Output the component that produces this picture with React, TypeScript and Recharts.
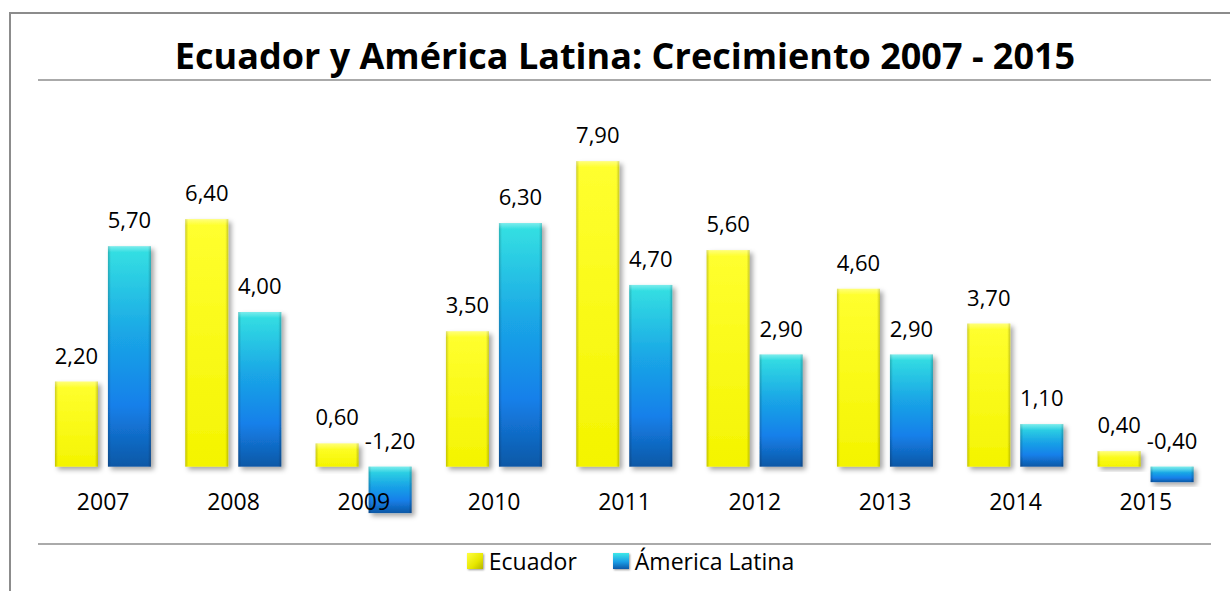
import { BarChart, Bar, XAxis, YAxis, CartesianGrid, Legend, LabelList } from 'recharts';

// growth rates (%)
const years = ['2007', '2008', '2009', '2010', '2011', '2012', '2013', '2014', '2015'];
const ecuador = [2.2, 6.4, 0.6, 3.5, 7.9, 5.6, 4.6, 3.7, 0.4];
const americaLatina = [5.7, 4.0, -1.2, 6.3, 4.7, 2.9, 2.9, 1.1, -0.4];
const yTicks = [-2, 0, 2, 4, 6, 8, 10];

const data = years.map((year, i) => ({
  year,
  ecuador: ecuador[i],
  latam: americaLatina[i],
}));

const FONT = '"Open Sans", "Noto Sans", sans-serif';

const fmt = (v: number) => v.toFixed(2).replace('.', ',');

const BevelBar = (props: any) => {
  const { x, y, width, height, fill } = props;
  const top = Math.min(y, y + height);
  const h = Math.abs(height);
  if (!h) return null;
  return (
    <g filter="url(#barShadow)">
      <rect x={x} y={top} width={width} height={h} fill={fill} />
      <rect x={x} y={top} width={width} height={h} fill="url(#edgeShade)" />
      <rect x={x} y={top} width={width} height={Math.min(6, h)} fill="url(#topShade)" />
    </g>
  );
};

const ValueLabel = (props: any) => {
  const { x, y, width, height, value } = props;
  const top = Math.min(y, y + height);
  return (
    <text x={x + width / 2} y={top - 18} textAnchor="middle" fontSize={22} fontFamily={FONT} fill="#000">
      {fmt(value)}
    </text>
  );
};

const YearTick = (props: any) => {
  const { x, y, payload } = props;
  return (
    <text x={x} y={y - 42} textAnchor="middle" fontSize={23} fontFamily={FONT} fill="#000">
      {payload.value}
    </text>
  );
};

const renderLegend = () => (
  <div
    style={{
      display: 'flex',
      justifyContent: 'center',
      alignItems: 'center',
      paddingLeft: 12,
      height: 30,
      fontFamily: FONT,
      fontSize: 23,
      color: '#000',
    }}
  >
    <span
      style={{
        width: 16,
        height: 16,
        marginRight: 6,
        background: 'linear-gradient(135deg, #ffff40, #e6e600 60%, #b5b500)',
        boxShadow: '1px 1px 2px rgba(0,0,0,0.4)',
      }}
    />
    <span style={{ marginRight: 36 }}>Ecuador</span>
    <span
      style={{
        width: 16,
        height: 16,
        marginRight: 6,
        background: 'linear-gradient(180deg, #3ee8e8, #1a9ee6 55%, #0d58a8)',
        boxShadow: '1px 1px 2px rgba(0,0,0,0.4)',
      }}
    />
    <span>Ámerica Latina</span>
  </div>
);

export default function App() {
  return (
    <div style={{ position: 'absolute', left: 0, top: 0, width: 1230, height: 591, overflow: 'hidden', background: '#fff' }}>
      <div
        style={{
          position: 'absolute',
          left: 9,
          top: 12,
          width: 1400,
          height: 800,
          borderLeft: '2px solid #8c8c8c',
          borderTop: '2px solid #8c8c8c',
        }}
      />
      <svg width={1230} height={100} style={{ position: 'absolute', left: 0, top: 0 }}>
        <text x={625} y={69} textAnchor="middle" fontSize={36} fontWeight={700} fontFamily={FONT} fill="#000">
          Ecuador y América Latina: Crecimiento 2007 - 2015
        </text>
      </svg>
      <div style={{ position: 'absolute', left: 0, top: 0 }}>
        <BarChart
          width={1230}
          height={591}
          data={data}
          margin={{ top: 80, right: 19, left: 38, bottom: 15 }}
          barCategoryGap="13%"
          barGap={10}
        >
          <defs>
            <linearGradient id="yellowFill" x1="0" y1="0" x2="0" y2="1">
              <stop offset="0%" stopColor="#ffff30" />
              <stop offset="100%" stopColor="#f4f400" />
            </linearGradient>
            <linearGradient id="blueFill" x1="0" y1="0" x2="0" y2="1">
              <stop offset="0%" stopColor="#35e2e2" />
              <stop offset="40%" stopColor="#1aa6e6" />
              <stop offset="72%" stopColor="#1580ea" />
              <stop offset="100%" stopColor="#0d58a6" />
            </linearGradient>
            <linearGradient id="edgeShade" x1="0" y1="0" x2="1" y2="0">
              <stop offset="0%" stopColor="#000" stopOpacity={0.2} />
              <stop offset="7%" stopColor="#000" stopOpacity={0} />
              <stop offset="93%" stopColor="#000" stopOpacity={0} />
              <stop offset="100%" stopColor="#000" stopOpacity={0.22} />
            </linearGradient>
            <linearGradient id="topShade" x1="0" y1="0" x2="0" y2="1">
              <stop offset="0%" stopColor="#fff" stopOpacity={0.35} />
              <stop offset="100%" stopColor="#fff" stopOpacity={0} />
            </linearGradient>
            <filter id="barShadow" x="-20%" y="-20%" width="150%" height="150%">
              <feDropShadow dx={3} dy={3} stdDeviation={2.5} floodColor="#000" floodOpacity={0.35} />
            </filter>
          </defs>
          <CartesianGrid horizontal vertical={false} stroke="#8e8e8e" strokeWidth={1.5} />
          <XAxis dataKey="year" axisLine={false} tickLine={false} tick={<YearTick />} interval={0} height={2} />
          <YAxis domain={[-2, 10]} ticks={yTicks} width={0} tick={false} axisLine={false} tickLine={false} />
          <Legend verticalAlign="bottom" height={30} content={renderLegend} />
          <Bar dataKey="ecuador" name="Ecuador" fill="url(#yellowFill)" shape={<BevelBar />} isAnimationActive={false}>
            <LabelList dataKey="ecuador" content={<ValueLabel />} />
          </Bar>
          <Bar dataKey="latam" name="Ámerica Latina" fill="url(#blueFill)" shape={<BevelBar />} isAnimationActive={false}>
            <LabelList dataKey="latam" content={<ValueLabel />} />
          </Bar>
        </BarChart>
      </div>
    </div>
  );
}
